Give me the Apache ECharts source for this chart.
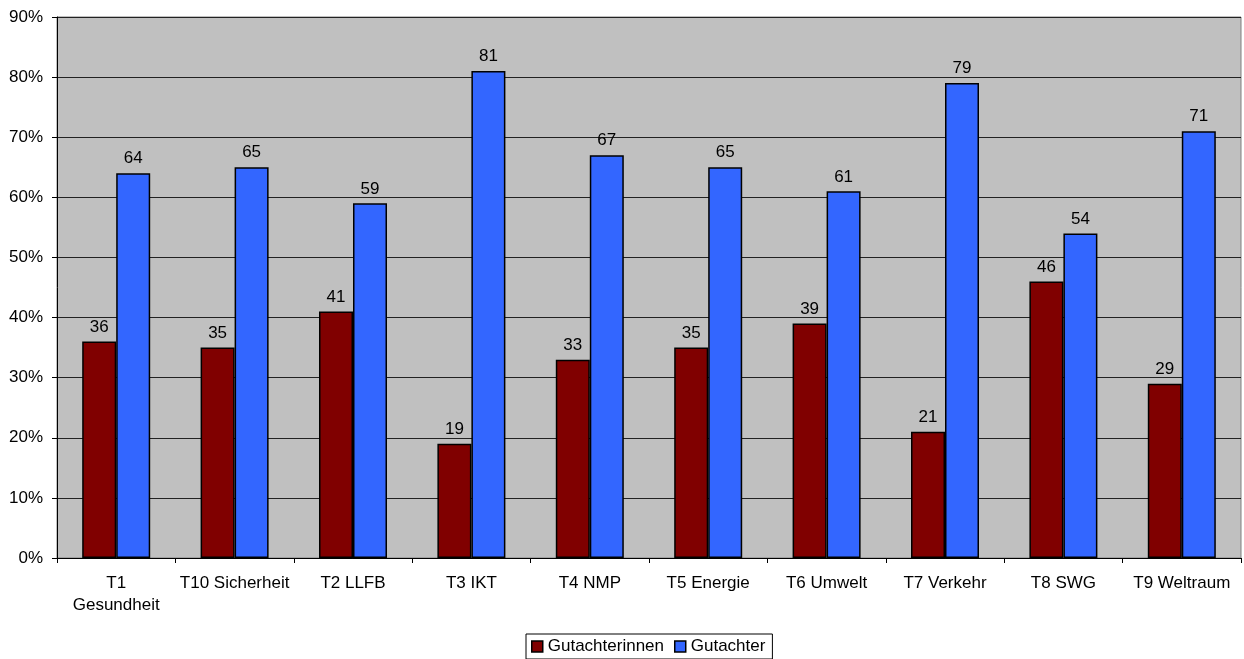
<!DOCTYPE html>
<html>
<head>
<meta charset="utf-8">
<script src="https://cdn.jsdelivr.net/npm/echarts@6/dist/echarts.min.js"></script>
<style>
  html, body { margin: 0; padding: 0; background: #fff; }
  #chart { width: 1244px; height: 659px; }
</style>
</head>
<body>
<div id="chart"></div>
<script>
// Themenbereiche (x-axis categories)
const categories = ['T1\nGesundheit', 'T10 Sicherheit', 'T2 LLFB', 'T3 IKT', 'T4 NMP',
  'T5 Energie', 'T6 Umwelt', 'T7 Verkehr', 'T8 SWG', 'T9 Weltraum'];
// Anteil in Prozent
const gutachterinnen = [36, 35, 41, 19, 33, 35, 39, 21, 46, 29];
const gutachter = [64, 65, 59, 81, 67, 65, 61, 79, 54, 71];

const font = 'Liberation Sans, Arial, sans-serif';
const fs = 17;
const chart = echarts.init(document.getElementById('chart'));

const barLabel = {
  show: true, position: 'top', distance: 6,
  color: '#000', fontSize: fs, fontFamily: font
};

chart.setOption({
  animation: false,
  textStyle: { fontFamily: font },
  grid: {
    left: 57, right: 3, top: 17, bottom: 101,
    show: true, backgroundColor: '#c0c0c0', borderColor: '#808080', borderWidth: 1
  },
  legend: {
    top: 634, left: 526,
    data: ['Gutachterinnen', 'Gutachter'],
    icon: 'rect', itemWidth: 11, itemHeight: 11, itemGap: 10,
    padding: [4, 7, 4, 5],
    backgroundColor: '#fff', borderColor: '#000', borderWidth: 1,
    textStyle: { color: '#000', fontSize: fs, fontFamily: font },
    itemStyle: { borderColor: '#000', borderWidth: 1.5 }
  },
  xAxis: {
    type: 'category', data: categories,
    axisLine: { lineStyle: { color: '#000', width: 1 } },
    axisTick: { show: true, length: 5, lineStyle: { color: '#000' } },
    axisLabel: { color: '#000', fontSize: fs, fontFamily: font, margin: 14, lineHeight: 22, interval: 0 }
  },
  yAxis: {
    type: 'value', min: 0, max: 90, interval: 10,
    axisLine: { show: true, lineStyle: { color: '#000', width: 1 } },
    axisTick: { show: true, length: 5, lineStyle: { color: '#000' } },
    axisLabel: { color: '#000', fontSize: fs, fontFamily: font, margin: 14, formatter: '{value}%' },
    splitLine: { show: true, lineStyle: { color: '#222', width: 1 } }
  },
  series: [
    {
      name: 'Gutachterinnen', type: 'bar', data: gutachterinnen,
      barWidth: 34, barGap: '0%',
      itemStyle: { color: '#800000', borderColor: '#000', borderWidth: 1.5 },
      label: barLabel
    },
    {
      name: 'Gutachter', type: 'bar', data: gutachter,
      barWidth: 34,
      itemStyle: { color: '#3366ff', borderColor: '#000', borderWidth: 1.5 },
      label: barLabel
    }
  ]
});
</script>
</body>
</html>
